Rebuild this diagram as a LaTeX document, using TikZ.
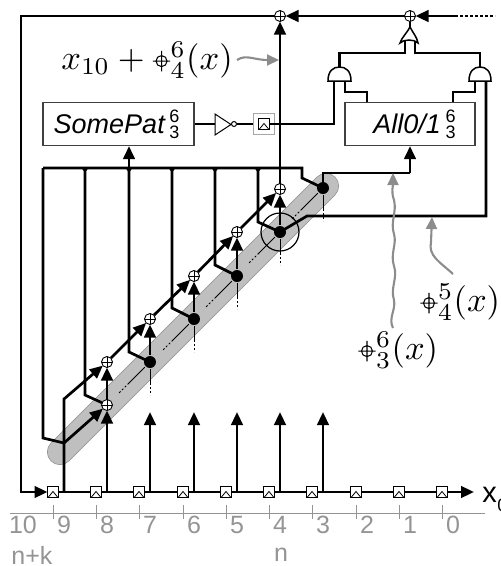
\documentclass[tikz,border=0pt]{standalone}
\usepackage{amsmath}
\usepackage{fontspec}
\usetikzlibrary{arrows.meta, calc}
\newfontfamily\helv{Liberation Sans}
\newcommand{\xorop}{\mathbin{\tikz[baseline=-2.5pt]{\draw[line width=0.3pt] (0,0) circle (1.6pt) (-2.5pt,0) -- (2.5pt,0) (0,-3pt) -- (0,3pt);}}}
\newcommand{\twodigits}[2]{\raisebox{-5pt}{\fontsize{18}{17}\selectfont\upshape\shortstack{#1\\#2}}}
\begin{document}
\begin{tikzpicture}[
			x=1pt, y=-1pt,
			line width=2.7pt,
			block/.style = {rectangle, draw=black!75, line width=1.2pt, fill=white, inner sep=0pt, align=center, minimum height=43pt, font=\helv\itshape\fontsize{27}{27}\selectfont},
			regbox/.style = {rectangle, draw, line width=1.5pt, fill=white, inner sep=0pt, outer sep=0pt, minimum size=11pt,
				path picture={\draw[line width=0.8pt] ([xshift=-4.5pt,yshift=0.5pt]path picture bounding box.south) -- ([yshift=6pt]path picture bounding box.south) -- ([xshift=4.5pt,yshift=0.5pt]path picture bounding box.south);}},
			xorgate/.style = {circle, draw, line width=0.9pt, fill=white, inner sep=0pt, outer sep=0pt, minimum size=11pt,
				path picture={\draw[line width=0.9pt] (path picture bounding box.north) -- (path picture bounding box.south) (path picture bounding box.west) -- (path picture bounding box.east);}},
			tapdot/.style = {circle, fill=black, inner sep=0pt, minimum size=12pt},
			gateline/.style = {draw, line width=1.5pt, fill=white},
			arr/.style = {-{Triangle[length=13pt,width=11.5pt]}},
			grayarr/.style = {-{Triangle[length=12pt,width=11pt]}, draw=black!45, line width=2.1pt},
			rulerlbl/.style = {text=black!42, font=\helv\fontsize{25}{25}\selectfont, inner sep=0pt},
			mathlbl/.style = {scale=3.45, inner sep=0pt},
			thinsolid/.style = {line width=0.8pt},
			thindot/.style = {line width=0.8pt, dash pattern=on 2pt off 2pt},
		]
			\useasboundingbox (0,0) rectangle (501,566);
			% gray band
			\draw[black!45, line width=26pt, line cap=round] (60,452) -- (326,186);
			\draw[black!25, line width=24.6pt, line cap=round] (60,452) -- (326,186);

			% ruler
			\draw[black!42, line width=1pt] (10,513) -- (485,513);
			\foreach \i/\x in {9/53,8/96,7/139,6/183,5/226,4/269,3/312,2/356,1/399,0/442} {
				\draw[black!42, line width=1pt] (\x,505) -- (\x,519);
				\node[rulerlbl] (num\i) at (\x+11,525) {\i};
				\node[regbox] (reg\i) at (\x,492) {};
				\coordinate (tap\i) at (\x+11,492);
			}
			\node[rulerlbl] (num10) at (23,525) {10};
			\node[rulerlbl] (lblnk) at (32,555) {n+k};
			\node[rulerlbl] (lbln) at (281,555) {n};

			% bus
			\foreach \a/\b in {9/8,8/7,7/6,6/5,5/4,4/3,3/2,2/1,1/0}
				\draw (reg\a) -- (reg\b);
			\node[font=\helv\fontsize{29}{29}\selectfont, inner sep=0pt, anchor=west] (xlbl) at (481,495) {x};
			\node[font=\helv\fontsize{18}{18}\selectfont, inner sep=0pt, anchor=west] (xsub) at (496,505) {0};
			\coordinate (busend) at (474,492);
			\draw[arr] (reg0) -- (busend);

			% adders and taps
			\node[xorgate] (xa) at (107,405) {};
			\node[xorgate] (xb) at (107,362) {};
			\node[xorgate] (xc) at (150,319) {};
			\node[xorgate] (xd) at (194,276) {};
			\node[xorgate] (xe) at (237,232) {};
			\node[xorgate] (xf) at (280,189) {};
			\node[xorgate] (topa) at (280,16) {};
			\node[xorgate] (topb) at (410,16) {};
			\node[tapdot] (dot7) at (150,362) {};
			\node[tapdot] (dot6) at (194,319) {};
			\node[tapdot] (dot5) at (237,276) {};
			\node[tapdot] (dot4) at (280,232) {};
			\node[tapdot] (dot3) at (323,188) {};
			\foreach \i in {7,...,3} {
				\draw[arr] (tap\i) -- ++(0,-80);
				\draw[thinsolid] (dot\i) -- ++(0,21);
				\draw[thindot] (dot\i) ++(0,21) -- ++(0,12);
				\draw[thinsolid] (dot\i) -- ++(-21,21);
				\draw[thindot] (dot\i) ++(-21,21) -- ++(-11,11);
			}
			\draw[line width=1.2pt] (dot4) circle (19pt);

			% blocks
			\node[block, minimum width=151pt] (somepat) at (118.5,124) {SomePat\,\twodigits{6}{3}\hspace{4pt}};
			\node[block, minimum width=130pt] (allzo) at (410,124) {\hspace{9pt}All0/1\,\twodigits{6}{3}};
			\node[rectangle, draw=black!35, line width=1pt, fill=white, minimum size=21.5pt, inner sep=0pt] (regframe) at (264,124) {};
			\node[regbox] (regout) at (264,124) {};

			% connectors
			\coordinate (cornertl) at (21,16);
			\coordinate (cornerbl) at (21,492);
			\coordinate (bendu) at (64,399);
			\coordinate (bendd) at (64,443);
			\coordinate (dotend) at (495,16);
			\coordinate (dotstart) at (455,16);
			\draw[arr] (topa) -- (cornertl) -- (cornerbl) -- (reg9);
			\draw[arr] (topb) -- (topa);
			\draw[arr] (dotstart) -- (topb);
			\draw[dash pattern=on 2.5pt off 2.5pt] (dotstart) -- (dotend);
			\draw[arr] (tap9) -- (bendu) -- (xb);
			\draw[arr] (bendd) -- (xa);
			\draw[arr] (tap8) -- (xa);
			\draw[arr] (xa) -- (xb);
			\draw[arr] (xb) -- (xc);
			\draw[arr] (xc) -- (xd);
			\draw[arr] (xd) -- (xe);
			\draw[arr] (xe) -- (xf);
			\draw[arr] (dot7) -- (xc);
			\draw[arr] (dot6) -- (xd);
			\draw[arr] (dot5) -- (xe);
			\draw[arr] (dot4) -- (xf);
			\draw[arr] (xf) -- (topa);

			% feed lines from the taps
			\draw (43,168) -- (302,168) -- (302,178) -- (dot3.center);
			\draw (43,168) -- (43,438) -- (bendd);
			\draw (85,168) -- (85,395) -- (xa);
			\draw (129,168) -- (129,352) -- (dot7.center);
			\draw (172,168) -- (172,308) -- (dot6.center);
			\draw (215,168) -- (215,265) -- (dot5.center);
			\draw (258,168) -- (258,222) -- (dot4.center);
			\foreach \x in {85,129,172,215,258}
				\fill (\x-3.5,168) -- (\x+3.5,168) -- (\x,172.5) -- cycle;
			\draw[arr] (129,168) -- (somepat.south -| 129,146);
			\draw (dot3.center) -- (323,173) -- (410,173);
			\draw[arr] (410,173) -- (allzo.south -| 410,146);

			% gates
			\coordinate (invin) at (215,124);
			\coordinate (invout) at (237,124);
			\coordinate (andlout) at (339.5,67);
			\coordinate (andlina) at (334,81);
			\coordinate (andlinb) at (345,81);
			\coordinate (androut) at (480,67);
			\coordinate (andrina) at (475,81);
			\coordinate (andrinb) at (486,81);
			\coordinate (orout) at (410,27);
			\coordinate (orina) at (405,41);
			\coordinate (orinb) at (415,41);
			\draw (somepat) -- (invin);
			\draw (invout) -- (regframe);
			\draw (regout) -| (andlina);
			\draw (andlinb) |- (367,92) -- (allzo.north -| 367,102);
			\draw (andrina) |- (453,92) -- (allzo.north -| 453,102);
			\draw (andrinb) -- (486,216) -- (307,216) -- (dot4.center);
			\draw (andlout) -- (339.5,53) -| (orina);
			\draw (androut) -- (480,53) -| (orinb);
			\draw (orout) -- (topb);
			\draw[gateline, line width=1pt] (215,114) -- (231,124.5) -- (215,135) -- cycle;
			\draw[gateline, line width=1pt] (234,124) circle (2.5pt);
			\draw[gateline] (328,81) .. controls (328,71) and (333,67) .. (339.5,67) .. controls (346,67) and (351,71) .. (351,81) -- cycle;
			\draw[gateline] (469,81) .. controls (469,71) and (474,67) .. (480,67) .. controls (486,67) and (491,71) .. (491,81) -- cycle;
			\draw[gateline] (410,27) .. controls (407,33) and (402,37) .. (400,43) .. controls (404,39) and (414,39) .. (418,43) .. controls (417,37) and (413,33) .. (410,27) -- cycle;

			% labels
			\node[mathlbl] (lblsum) at (147,60) {$x_{10}+\xorop^{6}_{4}(x)$};
			\node[mathlbl] (lblthree) at (398,350) {$\xorop^{6}_{3}(x)$};
			\node[mathlbl] (lblfour) at (460,302) {$\xorop^{5}_{4}(x)$};
			\coordinate (sumstart) at (237,60);
			\coordinate (sumend) at (279,60);
			\coordinate (wavestart) at (393,328);
			\coordinate (waveend) at (393,173);
			\coordinate (bendstart) at (453,274);
			\coordinate (bendend) at (432,217);
			\draw[grayarr] (sumstart) .. controls (246,54) and (254,60) .. (sumend);
			\draw[grayarr] (bendstart) .. controls (440,262) and (428,256) .. (431,242) -- (bendend);
			\draw[grayarr] (wavestart) .. controls (388,318) and (396,310) .. (394,300)
				.. controls (390,288) and (398,278) .. (394,266)
				.. controls (390,254) and (397,244) .. (394,234)
				.. controls (390,222) and (397,212) .. (394,200)
				.. controls (391,192) and (393,186) .. (waveend);
		\end{tikzpicture}
\end{document}
